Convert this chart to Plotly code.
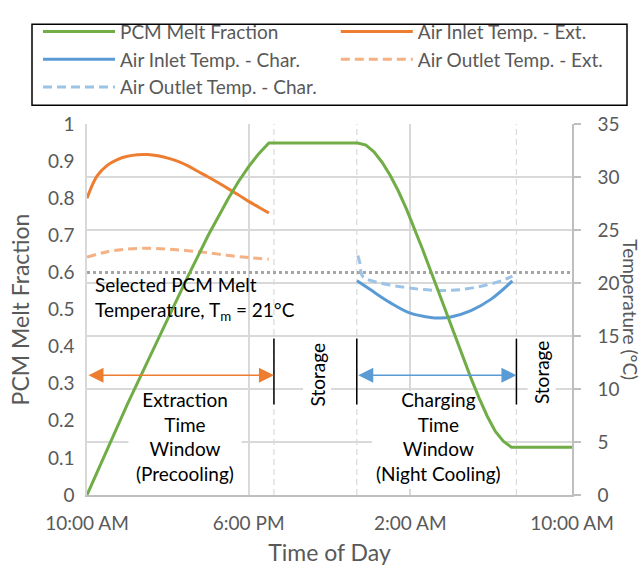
import plotly.graph_objects as go

# ---------------- data (time = hours after 10:00 AM) ----------------
tick_vals = [0, 8, 16, 24]
tick_text = ["10:00 AM", "6:00 PM", "2:00 AM", "10:00 AM"]

melt_t = [0, 1, 2, 3, 4, 5, 6, 7, 7.5, 8, 8.5, 9,
          13.4, 13.8, 14.2, 14.6, 15.0, 15.4, 15.8, 16.2, 16.6, 17.0, 17.4,
          17.8, 18.2, 18.6, 19.0, 19.4, 19.8, 20.2, 20.6, 21.0, 24]
melt_frac = [0, 0.125, 0.245, 0.36, 0.475, 0.59, 0.70, 0.80, 0.845, 0.885, 0.92, 0.9486,
             0.9486, 0.943, 0.925, 0.897, 0.862, 0.82, 0.772, 0.72, 0.663, 0.605, 0.546,
             0.488, 0.43, 0.372, 0.315, 0.262, 0.213, 0.172, 0.145, 0.129, 0.129]

inlet_ext_t = [0, 0.5, 1, 1.5, 2, 2.5, 3, 3.5, 4, 4.5, 5, 5.5, 6, 6.5, 7, 7.5, 8, 8.5, 9]
inlet_ext_temp = [28.0, 30.1, 31.1, 31.65, 31.95, 32.1, 32.12, 32.0, 31.78, 31.47, 31.05,
                  30.52, 30.0, 29.45, 28.88, 28.3, 27.7, 27.15, 26.6]

outlet_ext_t = [0, 1, 2, 3, 4, 5, 6, 7, 8, 9]
outlet_ext_temp = [22.45, 22.95, 23.2, 23.28, 23.2, 23.05, 22.85, 22.6, 22.4, 22.25]

inlet_char_t = [13.36, 14, 15, 16, 17, 17.5, 18, 19, 20, 21.05]
inlet_char_temp = [20.21, 19.4, 18.15, 17.15, 16.75, 16.7, 16.8, 17.4, 18.48, 20.2]

outlet_char_t = [13.4, 13.5, 13.6, 13.8, 14.5, 15.5, 16.5, 17.5, 18.5, 19.5, 20.5, 21.05]
outlet_char_temp = [22.6, 21.9, 20.75, 20.4, 20.0, 19.65, 19.4, 19.3, 19.38, 19.7, 20.2, 20.65]

melt_temp_x = [0, 24]
melt_temp = [21, 21]

window_bounds = [9.25, 13.35, 21.25]   # end of extraction, start / end of charging
arrow_level = 0.323

# ---------------- style ----------------
FONT = "Lato"
GRAY_TXT = "#595959"
GREEN = "#70AD47"
ORANGE = "#ED7D31"
BLUE = "#5B9BD5"
LORANGE = "#F4B183"
LBLUE = "#9DC3E6"
GRID = "#D9D9D9"
AXIS = "#BFBFBF"
FS = 19

fig = go.Figure()

fig.add_trace(go.Scatter(x=melt_temp_x, y=melt_temp, mode="lines", showlegend=False,
                         line=dict(color="#A6A6A6", width=3, dash="3px,3px"),
                         yaxis="y", hoverinfo="skip"))
fig.add_trace(go.Scatter(x=outlet_ext_t, y=outlet_ext_temp, mode="lines",
                         name="Air Outlet Temp. - Ext.", legend="legend2", legendrank=2,
                         line=dict(color=LORANGE, width=3, dash="9px,5px", shape="spline"),
                         yaxis="y"))
fig.add_trace(go.Scatter(x=inlet_ext_t, y=inlet_ext_temp, mode="lines",
                         name="Air Inlet Temp. - Ext.", legend="legend2", legendrank=1,
                         line=dict(color=ORANGE, width=3, shape="spline"), yaxis="y"))
fig.add_trace(go.Scatter(x=outlet_char_t, y=outlet_char_temp, mode="lines",
                         name="Air Outlet Temp. - Char.", legend="legend", legendrank=3,
                         line=dict(color=LBLUE, width=3, dash="9px,5px", shape="spline"),
                         yaxis="y"))
fig.add_trace(go.Scatter(x=inlet_char_t, y=inlet_char_temp, mode="lines",
                         name="Air Inlet Temp. - Char.", legend="legend", legendrank=2,
                         line=dict(color=BLUE, width=3, shape="spline"), yaxis="y"))
fig.add_trace(go.Scatter(x=melt_t, y=melt_frac, mode="lines",
                         name="PCM Melt Fraction", legend="legend", legendrank=1,
                         line=dict(color=GREEN, width=3), yaxis="y2"))

shapes = []
# dashed vertical separators
for xb in window_bounds:
    shapes.append(dict(type="line", xref="x", yref="paper", x0=xb, x1=xb, y0=0, y1=1,
                       line=dict(color=GRID, width=1.2, dash="6px,4px"), layer="below"))
# white boxes behind window texts (above grid, below traces)
shapes.append(dict(type="rect", xref="x", yref="y", x0=2.05, x1=7.65, y0=0.6, y1=9.8,
                   fillcolor="white", line=dict(width=0), layer="between"))
shapes.append(dict(type="rect", xref="x", yref="y", x0=14.1, x1=20.7, y0=0.6, y1=9.8,
                   fillcolor="white", line=dict(width=0), layer="between"))
# black boundary ticks
for xb in window_bounds:
    shapes.append(dict(type="line", xref="x", yref="y2", x0=xb, x1=xb, y0=0.244, y1=0.4216,
                       line=dict(color="black", width=1.5), layer="above"))
# legend frame
shapes.append(dict(type="rect", xref="paper", yref="paper", x0=-0.1134, x1=1.1134,
                   y0=1.0507, y1=1.2692, line=dict(color="black", width=1.5),
                   fillcolor="rgba(0,0,0,0)", layer="above"))

annotations = []
# double-headed arrows
annotations.append(dict(x=window_bounds[0], y=arrow_level, xref="x", yref="y2",
                        ax=0, ay=arrow_level, axref="x", ayref="y2", text="",
                        showarrow=True, arrowhead=2, startarrowhead=2, arrowside="end+start",
                        arrowsize=2, startarrowsize=2, arrowwidth=1.5, arrowcolor=ORANGE))
annotations.append(dict(x=window_bounds[2], y=arrow_level, xref="x", yref="y2",
                        ax=window_bounds[1], ay=arrow_level, axref="x", ayref="y2", text="",
                        showarrow=True, arrowhead=2, startarrowhead=2, arrowside="end+start",
                        arrowsize=2, startarrowsize=2, arrowwidth=1.5, arrowcolor=BLUE))
txt_font = dict(family=FONT, size=FS, color="black")
annotations.append(dict(x=0.3, y=0.529, xref="x", yref="y2", xanchor="left", yanchor="middle",
                        align="left", showarrow=False, font=txt_font,
                        text="Selected PCM Melt<br>Temperature, T<sub>m</sub> = 21°C"))
annotations.append(dict(x=4.86, y=0.157, xref="x", yref="y2", showarrow=False, font=txt_font,
                        text="Extraction<br>Time<br>Window<br>(Precooling)"))
annotations.append(dict(x=17.4, y=0.157, xref="x", yref="y2", showarrow=False, font=txt_font,
                        text="Charging<br>Time<br>Window<br>(Night Cooling)"))
annotations.append(dict(x=11.38, y=0.325, xref="x", yref="y2", showarrow=False, font=txt_font,
                        text="Storage", textangle=-90, bgcolor="white", borderpad=2))
annotations.append(dict(x=22.52, y=0.329, xref="x", yref="y2", showarrow=False, font=txt_font,
                        text="Storage", textangle=-90, bgcolor="white", borderpad=2))
# right axis title (reads top-to-bottom)
annotations.append(dict(x=1.12, y=0.5, xref="paper", yref="paper", showarrow=False,
                        xanchor="center", yanchor="middle",
                        text="Temperature (°C)", textangle=90,
                        font=dict(family=FONT, size=FS, color=GRAY_TXT)))

fig.update_layout(
    width=644, height=574,
    margin=dict(l=87, r=72, t=114, b=71),
    paper_bgcolor="white", plot_bgcolor="white",
    font=dict(family=FONT, size=FS, color=GRAY_TXT),
    xaxis=dict(range=[0, 24], tickvals=tick_vals, ticktext=tick_text,
               showgrid=True, gridcolor=GRID, gridwidth=1.5,
               showline=True, linecolor=AXIS, linewidth=1.5, ticks="", zeroline=False,
               ticklabelstandoff=10,
               title=dict(text="Time of Day", standoff=12)),
    yaxis=dict(range=[0, 35], dtick=5, tick0=0, side="right",
               showgrid=True, gridcolor=GRID, gridwidth=1.5, zeroline=False,
               showline=True, linecolor=AXIS, linewidth=1.5,
               ticks="outside", ticklen=7, tickcolor=AXIS, tickwidth=1.5,
               ticklabelstandoff=13),
    yaxis2=dict(range=[0, 1], dtick=0.1, tick0=0, side="left", overlaying="y",
                showgrid=False, zeroline=False, showline=True, linecolor=GRID, linewidth=1.5,
                ticks="", ticklabelstandoff=7,
                title=dict(text="PCM Melt Fraction", standoff=12)),
    legend=dict(x=-0.1010, y=1.300, xanchor="left", yanchor="top", orientation="v",
                bgcolor="rgba(0,0,0,0)", borderwidth=0, itemwidth=72, tracegroupgap=0,
                font=dict(family=FONT, size=FS, color=GRAY_TXT)),
    legend2=dict(x=0.513, y=1.300, xanchor="left", yanchor="top", orientation="v",
                 bgcolor="rgba(0,0,0,0)", borderwidth=0, itemwidth=72, tracegroupgap=0,
                 font=dict(family=FONT, size=FS, color=GRAY_TXT)),
    shapes=shapes, annotations=annotations,
)

fig.write_html("out.html")
